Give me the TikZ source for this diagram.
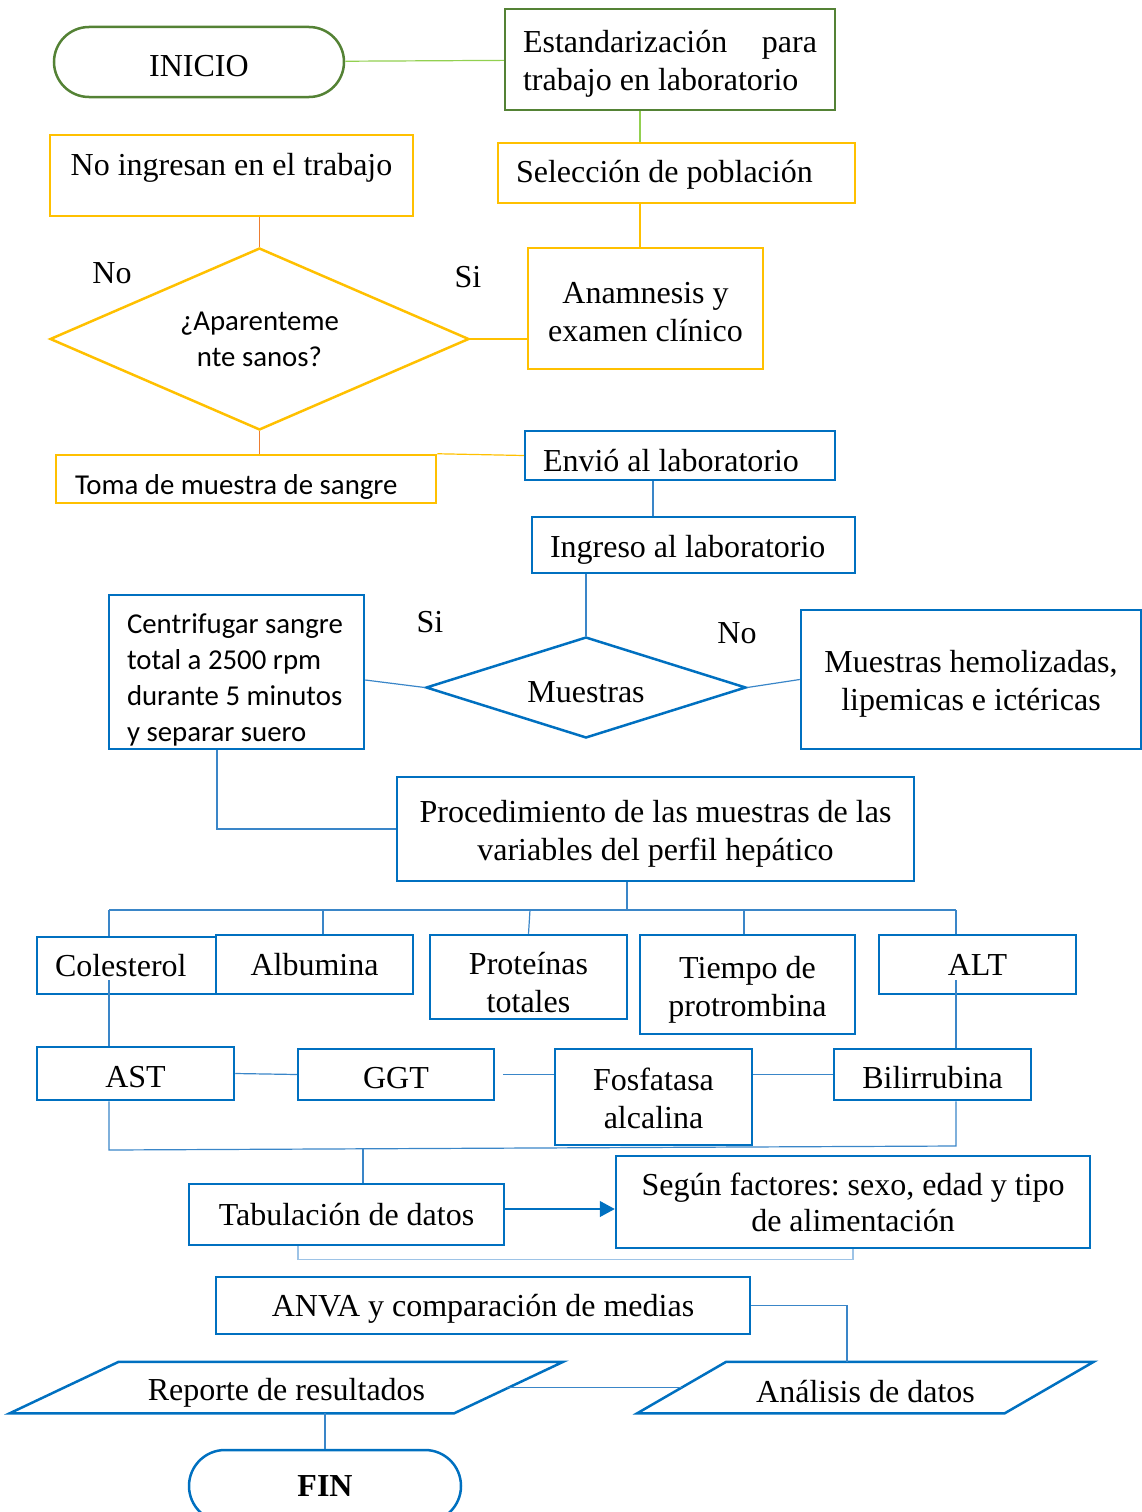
\documentclass[tikz,border=0pt]{standalone}
\usepackage{fontspec}
\setmainfont{Liberation Serif}
\newfontfamily\calib{Carlito}
\usetikzlibrary{shapes.geometric,arrows.meta}
\frenchspacing
\definecolor{dgreen}{HTML}{548235}
\definecolor{lgreen}{HTML}{92D050}
\definecolor{yel}{HTML}{FFC000}
\definecolor{orng}{HTML}{ED7D31}
\definecolor{blu}{HTML}{0070C0}
\definecolor{lblu}{HTML}{3A86C8}
\definecolor{pblu}{HTML}{9DC3E6}

\begin{document}
\begin{tikzpicture}[x=1pt,y=-1pt,
  box/.style={draw,line width=2.5pt,inner sep=0pt,align=center,font=\fontsize{32}{38}\selectfont},
  gbox/.style={box,draw=dgreen},
  ybox/.style={box,draw=yel},
  bbox/.style={box,draw=blu},
  cal/.style={font=\calib\fontsize{28.8}{36}\selectfont},
  lbl/.style={font=\fontsize{32}{38}\selectfont,inner sep=0pt},
  dn/.style={execute at begin node={\rule{0pt}{#1}}},
  wire/.style={line width=1.2pt,draw=#1},
  wire/.default=lblu]
\useasboundingbox (0,0) rectangle (1141,1512);

\node[gbox,rounded corners=35pt,minimum width=290pt,minimum height=70pt,dn=30pt](inicio) at (199,62){INICIO};
\node[gbox,minimum width=330pt,minimum height=101pt,text width=294pt,align=flush left,dn=30pt](estand) at (670,59.5){Estandarización\hskip 0pt plus 1filll para\\trabajo en laboratorio};
\node[ybox,minimum width=357pt,minimum height=60pt,text width=321pt,align=flush left,dn=26pt](selec) at (676.5,173){Selección de población};
\node[ybox,minimum width=235pt,minimum height=121pt,text width=210pt,align=flush center,dn=28pt](anam) at (645.5,308.5){Anamnesis y\\examen clínico};
\node[ybox,minimum width=363pt,minimum height=81pt,text depth=23pt](noing) at (231.5,175.5){No ingresan en el trabajo};
\node[ybox,diamond,aspect=2.3,cal,minimum width=419pt,minimum height=182pt](apar) at (259.5,339){¿Aparenteme\\nte sanos?};
\node[lbl](no1) at (112,273){No};
\node[lbl](si1) at (468,277){Si};
\node[ybox,cal,minimum width=380pt,minimum height=48pt,text width=342pt,align=flush left,dn=35pt](toma) at (246,479){Toma de muestra de sangre};

\node[bbox,minimum width=310pt,minimum height=49pt,text width=274pt,align=flush left,dn=32pt](envio) at (680,455.5){Envió al laboratorio};
\node[bbox,minimum width=323pt,minimum height=56pt,text width=287pt,align=flush left,dn=32pt](ingreso) at (693.5,545){Ingreso al laboratorio};
\node[bbox,diamond,aspect=3.2,minimum width=320pt,minimum height=101pt,dn=30pt](muestras) at (586,687.5){Muestras};
\node[lbl](si2) at (430,622){Si};
\node[lbl](no2) at (737,633){No};
\node[bbox,cal,minimum width=255pt,minimum height=154pt,text width=219pt,align=flush left,dn=35pt](centri) at (236.5,672){Centrifugar sangre\\total a 2500 rpm\\durante 5 minutos\\y separar suero};
\node[bbox,minimum width=340pt,minimum height=139pt,text width=320pt,align=flush center,dn=30pt](hemo) at (971,679.5){Muestras hemolizadas,\\lipemicas e ictéricas};
\node[bbox,minimum width=517pt,minimum height=104pt,text width=495pt,align=flush center,dn=32pt](proc) at (655.5,829){Procedimiento de las muestras de las\\variables del perfil hepático};

\node[bbox,minimum width=179pt,minimum height=57pt,text width=143pt,align=flush left](col) at (126.5,965.5){Colesterol};
\node[bbox,minimum width=197pt,minimum height=59pt](alb) at (314.5,964.5){Albumina};
\node[bbox,minimum width=197pt,minimum height=84pt,text width=180pt,align=flush center,dn=34pt](prot) at (528.5,977){Proteínas\\totales};
\node[bbox,minimum width=215pt,minimum height=99pt,text width=200pt,align=flush center,dn=32pt](tiempo) at (747.5,984.5){Tiempo de\\protrombina};
\node[bbox,minimum width=197pt,minimum height=59pt](alt) at (977.5,964.5){ALT};
\node[bbox,minimum width=197pt,minimum height=53pt,dn=28pt](ast) at (135.5,1073.5){AST};
\node[bbox,minimum width=196pt,minimum height=51pt,dn=28pt](ggt) at (396,1074.5){GGT};
\node[bbox,minimum width=197pt,minimum height=96pt,text width=180pt,align=flush center,dn=26pt](fosf) at (653.5,1097){Fosfatasa\\alcalina};
\node[bbox,minimum width=197pt,minimum height=51pt,dn=28pt](bili) at (932.5,1074.5){Bilirrubina};

\node[bbox,minimum width=315pt,minimum height=61pt](tab) at (346.5,1214.5){Tabulación de datos};
\node[bbox,minimum width=474pt,minimum height=92pt,font=\fontsize{32}{36}\selectfont](segun) at (853,1202){Según factores: sexo, edad y tipo\\de alimentación};
\node[bbox,minimum width=534pt,minimum height=57pt,dn=28pt](anva) at (483,1305.5){ANVA y comparación de medias};
\node[box,draw=none,minimum width=442pt,minimum height=49pt,dn=32pt](reporte) at (286.5,1387.5){Reporte de resultados};
\draw[blu,line width=2.5pt] ([xshift=-54.5pt]reporte.south west) -- ([xshift=-54.5pt]reporte.south east) -- ([xshift=54.5pt]reporte.north east) -- ([xshift=54.5pt]reporte.north west) -- cycle;
\node[box,draw=none,minimum width=365pt,minimum height=49pt,dn=30pt](analisis) at (865.5,1387.5){Análisis de datos};
\draw[blu,line width=2.5pt] ([xshift=-44.5pt]analisis.south west) -- ([xshift=-44.5pt]analisis.south east) -- ([xshift=44.5pt]analisis.north east) -- ([xshift=44.5pt]analisis.north west) -- cycle;
\node[bbox,rounded corners=36pt,minimum width=272pt,minimum height=72pt,font=\bfseries\fontsize{32}{38}\selectfont](fin) at (325,1486){FIN};

\draw[wire=lgreen] (inicio) -- (estand);
\draw[wire=lgreen] (estand.south -| 640,0) -- (selec.north -| 640,0);
\draw[wire=yel] (selec.south -| 640,0) -- (anam.north -| 640,0);
\draw[wire=yel] (apar.east) -- (apar.east -| anam.west);
\draw[wire=orng] (apar.north |- noing.south) -- (apar.north);
\draw[wire=orng] (apar.south) -- (apar.south |- toma.north);
\draw[wire=yel] (toma.north east) -- (envio.west);
\draw[wire] (envio.south -| 653,0) -- (ingreso.north -| 653,0);
\draw[wire] (muestras.north |- ingreso.south) -- (muestras.north);
\draw[wire] (muestras.west) -- (centri.east |- 0,680);
\draw[wire] (muestras.east) -- (hemo.west);
\draw[wire] (centri.south -| 217,0) |- (proc.west);

\coordinate (b0) at (627,910);
\coordinate (b1) at (109,910);
\coordinate (b2) at (323,910);
\coordinate (b3) at (530,910);
\coordinate (b4) at (744,910);
\coordinate (b5) at (956,910);
\draw[wire] (proc.south -| b0) -- (b0);
\draw[wire] (b1) -- (b5);
\draw[wire] (b1) -- (b1 |- col.north);
\draw[wire] (b2) -- (b2 |- alb.north);
\draw[wire] (b3) -- (prot.north);
\draw[wire] (b4) -- (b4 |- tiempo.north);
\draw[wire] (b5) -- (b5 |- alt.north);
\draw[wire] (b1 |- 0,980) -- (b1 |- ast.north);
\draw[wire] (b5 |- 0,980) -- (b5 |- bili.north);
\draw[wire] (ast.east) -- (ggt.west);
\draw[wire] (ggt.east) ++(8,0) -- (ggt.east -| fosf.west);
\draw[wire] (bili.west -| fosf.east) -- (bili.west);

\coordinate (c0) at (363,1149);
\coordinate (c1) at (109,1150);
\coordinate (c2) at (956,1146);
\draw[wire] (b1 |- ast.south) -- (c1) -- (c2) -- (b5 |- bili.south);
\draw[wire] (c0) -- (c0 |- tab.north);
\draw[wire=blu,-{Triangle[length=15pt,width=16pt]}] (tab.east |- 0,1209) -- (segun.west |- 0,1209);
\draw[wire=pblu] (tab.south -| 298,0) -- ++(0,13) -| (segun.south);
\draw[wire] (anva.east) -| (analisis.north -| 847,0);
\draw[wire] (reporte.east) ++(-2,0) -- (analisis.west);
\draw[wire] (fin.north |- reporte.south) -- (fin.north);
\end{tikzpicture}
\end{document}
